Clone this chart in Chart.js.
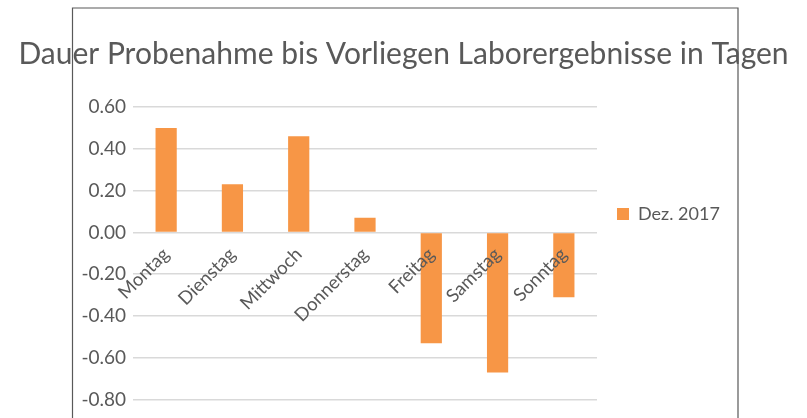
<!DOCTYPE html>
<html>
<head>
<meta charset="utf-8">
<script src="https://cdn.jsdelivr.net/npm/chart.js@4.4.1/dist/chart.umd.min.js"></script>
<style>
  html, body { margin: 0; padding: 0; background: #ffffff; overflow: hidden; }
  canvas { display: block; }
</style>
</head>
<body>
<canvas id="c" width="807" height="418"></canvas>
<script>
// ---- data ----
const categories = ['Montag', 'Dienstag', 'Mittwoch', 'Donnerstag', 'Freitag', 'Samstag', 'Sonntag'];
const seriesName = 'Dez. 2017';
const seriesValues = [0.50, 0.23, 0.46, 0.07, -0.53, -0.67, -0.31];
const yTicks = [0.60, 0.40, 0.20, 0.00, -0.20, -0.40, -0.60, -0.80];
const chartTitle = 'Dauer Probenahme bis Vorliegen Laborergebnisse in Tagen';

const FONT = 'Lato, "Open Sans", sans-serif';
const GREY = '#595959';

const framePlugin = {
  id: 'frame',
  beforeDraw(chart) {
    const ctx = chart.ctx;
    ctx.save();
    ctx.fillStyle = '#ffffff';
    ctx.fillRect(0, 0, chart.width, chart.height);
    ctx.strokeStyle = '#595959';
    ctx.lineWidth = 1.2;
    ctx.beginPath();
    ctx.moveTo(72.5, chart.height + 5);
    ctx.lineTo(72.5, 8);
    ctx.lineTo(738, 8);
    ctx.lineTo(738, chart.height + 5);
    ctx.stroke();
    ctx.restore();
  }
};

const legendWidthPlugin = {
  id: 'legendWidth',
  afterInit(chart) {
    const lg = chart.legend;
    if (!lg) return;
    const orig = lg.fit;
    lg.fit = function () { orig.call(this); this.width = 210; };
  }
};

new Chart(document.getElementById('c'), {
  type: 'bar',
  data: {
    labels: categories,
    datasets: [{
      label: seriesName,
      data: seriesValues,
      backgroundColor: '#F79646',
      borderWidth: 0,
      barPercentage: 0.32,
      categoryPercentage: 1.0
    }]
  },
  options: {
    responsive: false,
    animation: false,
    layout: { padding: { top: 28, bottom: 18, left: 0, right: 0 } },
    plugins: {
      title: {
        display: true,
        text: chartTitle,
        color: GREY,
        font: { family: FONT, size: 30, weight: 'normal' },
        padding: { top: 8, bottom: 35 }
      },
      legend: {
        display: true,
        position: 'right',
        labels: {
          boxWidth: 12,
          boxHeight: 12,
          padding: 20,
          color: GREY,
          font: { family: FONT, size: 18 }
        }
      },
      tooltip: { enabled: false }
    },
    scales: {
      x: {
        position: { y: 0 },
        grid: { display: false },
        border: { display: false },
        ticks: {
          z: 1,
          autoSkip: false,
          minRotation: 45,
          maxRotation: 45,
          color: GREY,
          font: { family: FONT, size: 18.5 },
          padding: 3
        }
      },
      y: {
        min: -0.8,
        max: 0.6,
        afterFit(scale) { scale.width = 133; },
        afterBuildTicks(scale) { scale.ticks = yTicks.map(v => ({ value: v })); },
        grid: { color: '#d9d9d9', lineWidth: 1.5, drawTicks: false },
        border: { display: false },
        ticks: {
          color: GREY,
          padding: 7,
          font: { family: FONT, size: 19 },
          callback: v => Number(v).toFixed(2)
        }
      }
    }
  },
  plugins: [framePlugin, legendWidthPlugin]
});
</script>
</body>
</html>
